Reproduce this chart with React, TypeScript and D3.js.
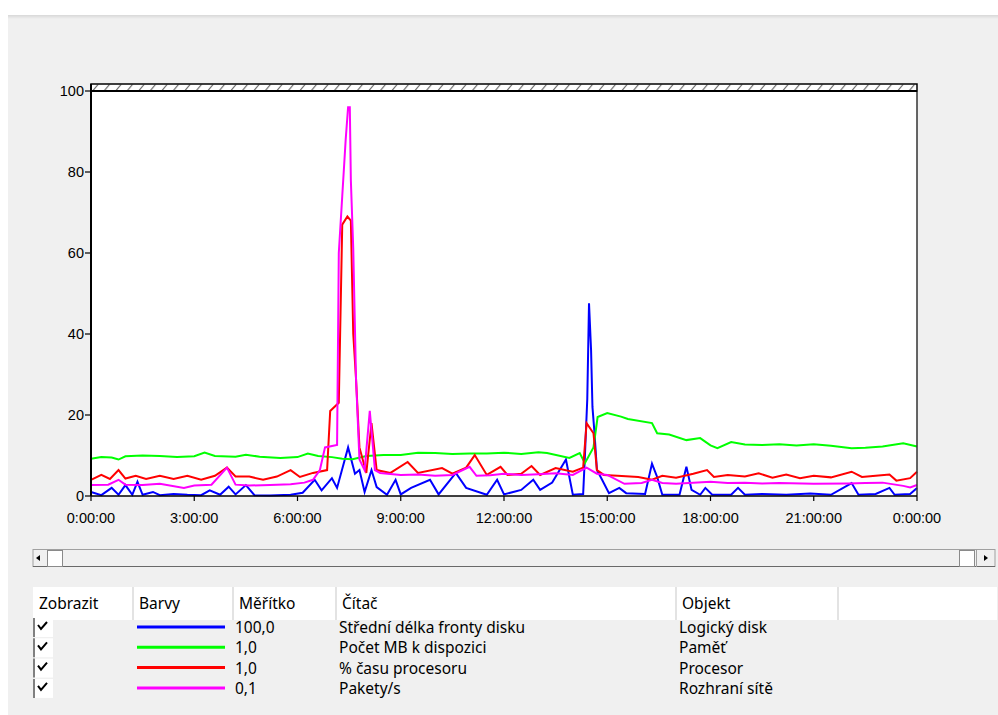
import React from "react";
import * as d3 from "d3";

const xTickHours = [0, 3, 6, 9, 12, 15, 18, 21, 24];
const xTickLabels = ["0:00:00", "3:00:00", "6:00:00", "9:00:00", "12:00:00", "15:00:00", "18:00:00", "21:00:00", "0:00:00"];
const yTicks = [0, 20, 40, 60, 80, 100];

// [hour, value]
const diskQueue: [number, number][] = [
  [0, 1], [0.3, 0.2], [0.6, 2], [0.8, 0.3], [1.0, 2.7], [1.2, 0.3], [1.35, 3.5], [1.5, 0.3], [1.8, 1], [2.0, 0.2],
  [2.4, 0.5], [2.8, 0.3], [3.2, 0.2], [3.45, 1.4], [3.75, 0.3], [4.0, 2.3], [4.2, 0.4], [4.5, 2.7], [4.75, 0.2],
  [5.2, 0.1], [5.8, 0.3], [6.15, 0.8], [6.5, 4], [6.7, 1.4], [7.0, 4.4], [7.15, 2], [7.47, 12], [7.67, 5.5],
  [7.8, 6.4], [7.95, 1], [8.15, 6.4], [8.3, 2.2], [8.6, 0.3], [8.85, 4], [9.0, 0.4], [9.3, 2], [9.85, 4],
  [10.1, 0.4], [10.6, 5.7], [10.9, 2], [11.5, 0.3], [11.8, 4], [12.0, 0.4], [12.5, 1.5], [12.85, 4], [13.05, 1.5],
  [13.4, 3.3], [13.8, 9], [14.0, 0.3], [14.3, 0.5], [14.35, 9.7], [14.42, 24], [14.47, 47.6], [14.53, 36],
  [14.57, 22], [14.63, 15.5], [14.7, 6.4], [14.85, 4], [15.05, 0.7], [15.35, 2], [15.55, 0.7], [16.1, 0.5],
  [16.3, 8], [16.45, 4.7], [16.6, 0.3], [17.1, 0.3], [17.3, 7.2], [17.45, 1.5], [17.7, 0.3], [17.85, 2],
  [18.05, 0.3], [18.6, 0.3], [18.8, 2], [19.0, 0.3], [19.5, 0.5], [20.2, 0.3], [20.9, 0.6], [21.5, 0.3],
  [22.1, 3.2], [22.3, 0.3], [22.8, 0.5], [23.2, 2], [23.35, 0.3], [23.8, 0.5], [24, 2],
];

const memoryMB: [number, number][] = [
  [0, 9.2], [0.3, 9.6], [0.6, 9.5], [0.8, 9.0], [1.0, 9.8], [1.5, 10], [2.0, 9.9], [2.5, 9.6], [3.0, 9.8],
  [3.3, 10.7], [3.6, 9.9], [4.2, 9.7], [4.5, 10.2], [4.9, 9.7], [5.5, 9.4], [6.0, 9.6], [6.3, 10.5], [6.6, 9.9],
  [7.0, 9.6], [7.3, 9.2], [7.6, 9.1], [8.0, 9.9], [8.5, 10.1], [9.0, 10.1], [9.5, 10.7], [10, 10.6],
  [10.5, 10.4], [11, 10.5], [11.5, 10.5], [12, 10.7], [12.5, 10.4], [13.0, 10.8], [13.25, 10.6], [13.9, 9.4],
  [14.2, 10.6], [14.35, 8.1], [14.6, 12], [14.72, 19.5], [15.0, 20.5], [15.4, 19.6], [15.6, 19], [16.3, 18],
  [16.45, 15.5], [16.8, 15.2], [17.3, 13.8], [17.7, 14.3], [18.0, 12.5], [18.2, 11.8], [18.6, 13.3],
  [19.0, 12.7], [19.5, 12.6], [20.0, 12.8], [20.5, 12.5], [21, 12.8], [21.5, 12.4], [22.1, 11.8], [22.5, 11.9],
  [23.0, 12.2], [23.6, 13], [24, 12.2],
];

const cpuTime: [number, number][] = [
  [0, 4], [0.3, 5.2], [0.55, 4.2], [0.8, 6.4], [1.0, 4.3], [1.3, 5], [1.6, 4.2], [2.0, 5], [2.4, 4.2], [2.8, 5],
  [3.2, 4], [3.6, 5], [3.95, 7], [4.2, 4.8], [4.6, 4.8], [5.0, 4], [5.4, 4.8], [5.8, 6.4], [6.07, 4.7],
  [6.45, 5.7], [6.86, 6.4], [6.95, 21], [7.2, 23], [7.3, 67], [7.45, 69], [7.55, 68], [7.62, 40], [7.7, 29],
  [7.8, 12], [8.0, 5.7], [8.15, 18], [8.3, 6.4], [8.7, 5.7], [9.2, 8.4], [9.5, 5.7], [10.2, 6.9], [10.5, 5.5],
  [10.9, 7], [11.15, 10.1], [11.5, 5.2], [11.9, 7.2], [12.1, 5.2], [12.5, 5.5], [12.8, 7.4], [13.05, 5.2],
  [13.5, 6.9], [14.0, 6], [14.3, 7], [14.4, 18], [14.6, 15.5], [14.7, 6.4], [14.9, 5.2], [15.3, 5], [15.9, 4.7],
  [16.3, 4], [16.6, 5], [17.0, 4.5], [17.5, 5.5], [17.9, 6.4], [18.1, 4.7], [18.5, 5.2], [19.0, 4.8],
  [19.4, 5.6], [19.8, 4.5], [20.2, 5.3], [20.6, 4.4], [21.0, 5], [21.5, 4.6], [22.1, 6], [22.4, 4.7], [22.8, 5],
  [23.2, 5.3], [23.4, 3.8], [23.8, 4.4], [24, 6],
];

const packets: [number, number][] = [
  [0, 2.7], [0.5, 2.8], [0.8, 4], [1.0, 2.8], [1.5, 2.7], [2.0, 3], [2.7, 2], [3.0, 2.6], [3.5, 2.8], [3.95, 7],
  [4.2, 2.8], [4.6, 2.6], [5.2, 2.7], [5.8, 2.9], [6.2, 3.3], [6.45, 4], [6.65, 6.4], [6.8, 12], [7.15, 12.6],
  [7.2, 60], [7.3, 74], [7.35, 81], [7.4, 88], [7.47, 96], [7.52, 96], [7.55, 78], [7.62, 61], [7.7, 29],
  [7.8, 9], [7.95, 6.4], [8.1, 21], [8.25, 6.4], [8.4, 5.7], [9, 5.2], [9.5, 5.3], [10, 5.0], [10.5, 5.2],
  [11.0, 7.2], [11.2, 5], [11.6, 5.1], [12, 5.5], [12.5, 5.2], [13, 5.4], [13.5, 5.6], [14, 5.2], [14.4, 7],
  [14.7, 5.5], [15.0, 5.2], [15.5, 3.0], [16, 3.2], [16.3, 4], [16.6, 3.2], [17, 3.0], [17.5, 3.3], [18, 3.5],
  [18.5, 3.2], [19, 3.3], [19.5, 3.1], [20, 3.2], [21, 3.0], [22, 3.1], [22.5, 3.2], [23, 3.3], [23.6, 2.5],
  [23.8, 2.1], [24, 2.7],
];

const seriesList = [
  { data: diskQueue, color: "#0000ff", scale: "100,0", counter: "Střední délka fronty disku", object: "Logický disk" },
  { data: memoryMB, color: "#00ff00", scale: "1,0", counter: "Počet MB k dispozici", object: "Paměť" },
  { data: cpuTime, color: "#ff0000", scale: "1,0", counter: "% času procesoru", object: "Procesor" },
  { data: packets, color: "#ff00ff", scale: "0,1", counter: "Pakety/s", object: "Rozhraní sítě" },
];

const headers = [
  { label: "Zobrazit", x: 33, w: 100 },
  { label: "Barvy", x: 133, w: 100 },
  { label: "Měřítko", x: 233, w: 103 },
  { label: "Čítač", x: 336, w: 340 },
  { label: "Objekt", x: 676, w: 162 },
  { label: "", x: 838, w: 159 },
];

export default function App() {
  const W = 998, H = 715;
  const left = 91, right = 917, top = 91, bottom = 496;
  const x = d3.scaleLinear().domain([0, 24]).range([left, right]);
  const y = d3.scaleLinear().domain([0, 100]).range([bottom, top]);
  const line = d3.line<[number, number]>().x(d => x(d[0])).y(d => y(d[1]));
  const axisFont = "'Liberation Sans', Arial, sans-serif";
  const uiFont = "'Noto Sans', 'Open Sans', sans-serif";

  return (
    <svg width={W} height={H} style={{ position: "absolute", left: 0, top: 0, display: "block" }}>
      <defs>
        <pattern id="hatch" patternUnits="userSpaceOnUse" width={11.5} height={7} x={left} y={84}>
          <line x1={2} y1={6.5} x2={7} y2={0.5} stroke="#444" strokeWidth={1} />
        </pattern>
        <linearGradient id="shadowTop" x1="0" y1="0" x2="0" y2="1">
          <stop offset="0" stopColor="#d8d8d8" />
          <stop offset="1" stopColor="#f0f0f0" />
        </linearGradient>
      </defs>
      <rect x={0} y={0} width={W} height={H} fill="#ffffff" />
      <rect x={8} y={15} width={W - 8} height={H - 15} fill="#f0f0f0" />
      <rect x={8} y={15} width={W - 8} height={4} fill="url(#shadowTop)" />

      {/* hatched bar */}
      <rect x={left} y={84} width={right - left} height={7} fill="#ffffff" />
      <rect x={left} y={84} width={right - left} height={7} fill="url(#hatch)" stroke="#000" strokeWidth={1.5} />

      {/* plot area */}
      <rect x={left} y={top} width={right - left} height={bottom - top} fill="#ffffff" />
      <g fill="none" strokeWidth={2} strokeLinejoin="miter">
        {seriesList.map((s, i) => (
          <path key={i} d={line(s.data) || ""} stroke={s.color} />
        ))}
      </g>
      <line x1={right} y1={top} x2={right} y2={bottom} stroke="#333" strokeWidth={1.5} />
      <line x1={left} y1={top} x2={right} y2={top} stroke="#000" strokeWidth={2} />
      <line x1={left} y1={84} x2={left} y2={bottom} stroke="#000" strokeWidth={2} />
      <line x1={left} y1={bottom} x2={right} y2={bottom} stroke="#000" strokeWidth={1.5} />

      {/* y axis */}
      {yTicks.map(t => (
        <g key={t}>
          <line x1={left - 6} x2={left} y1={y(t)} y2={y(t)} stroke="#000" strokeWidth={1.2} />
          <text x={left - 7} y={y(t) + 5} textAnchor="end" fontFamily={axisFont} fontSize={14.5} fill="#000">{t}</text>
        </g>
      ))}
      {/* x axis */}
      {xTickHours.map((h, i) => (
        <g key={i}>
          <line x1={x(h)} x2={x(h)} y1={bottom} y2={bottom + 5} stroke="#000" strokeWidth={1.2} />
          <text x={x(h)} y={bottom + 27} textAnchor="middle" fontFamily={axisFont} fontSize={14.5} fill="#000">{xTickLabels[i]}</text>
        </g>
      ))}

      {/* scrollbar */}
      <rect x={33} y={549.5} width={962} height={17} fill="#f0f0f0" stroke="#a0a0a0" strokeWidth={1} />
      <line x1={33} y1={566.5} x2={995} y2={566.5} stroke="#696969" strokeWidth={1} />
      <path d="M36,558 L40,555 L40,561 Z" fill="#000" />
      <rect x={47.5} y={550.5} width={15} height={16} fill="#ffffff" stroke="#8a8a8a" />
      <rect x={959.5} y={550.5} width={15} height={16} fill="#ffffff" stroke="#8a8a8a" />
      <line x1={976.5} y1={549} x2={976.5} y2={567} stroke="#a0a0a0" />
      <path d="M988,558 L984,555 L984,561 Z" fill="#000" />

      {/* legend header */}
      <rect x={33} y={587} width={964} height={33} fill="#ffffff" />
      {headers.map((hd, i) => (
        <g key={i}>
          {i > 0 && <line x1={hd.x} x2={hd.x} y1={587} y2={620} stroke="#e3e3e3" strokeWidth={2} />}
          <text x={hd.x + 6} y={609} fontFamily={uiFont} fontSize={15.5} fill="#000">{hd.label}</text>
        </g>
      ))}

      {/* legend rows */}
      {seriesList.map((s, i) => {
        const cy = 627 + i * 20.3;
        return (
          <g key={i}>
            <rect x={34} y={cy - 9} width={19} height={19} fill="#ffffff" />
            <line x1={34} y1={cy - 9} x2={34} y2={cy + 10} stroke="#808080" strokeWidth={2} />
            <path d={`M38,${cy - 2} L41,${cy + 2} L47,${cy - 5}`} fill="none" stroke="#000" strokeWidth={2} />
            <line x1={137} x2={225} y1={cy} y2={cy} stroke={s.color} strokeWidth={3} />
            <text x={235} y={cy + 6} fontFamily={uiFont} fontSize={15.5} fill="#000">{s.scale}</text>
            <text x={339} y={cy + 6} fontFamily={uiFont} fontSize={15.5} fill="#000">{s.counter}</text>
            <text x={679} y={cy + 6} fontFamily={uiFont} fontSize={15.5} fill="#000">{s.object}</text>
          </g>
        );
      })}
    </svg>
  );
}
